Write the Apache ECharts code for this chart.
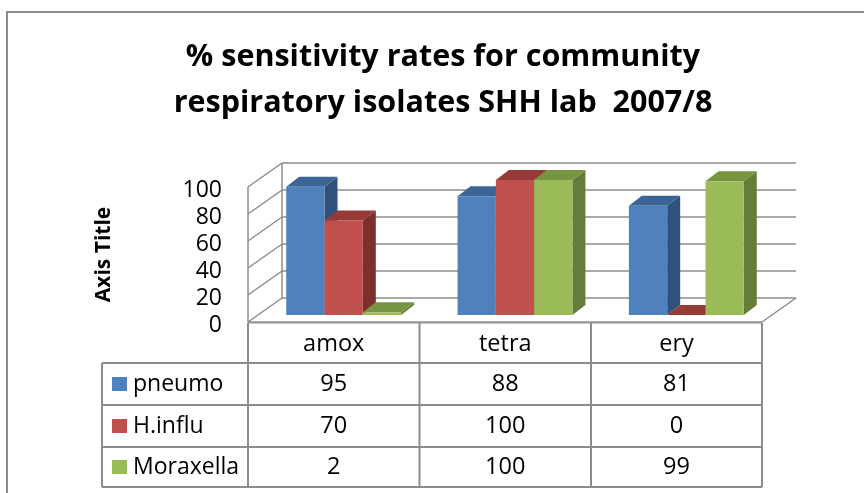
<!DOCTYPE html>
<html>
<head>
<meta charset="utf-8">
<script src="https://cdn.jsdelivr.net/npm/echarts@6/dist/echarts.min.js"></script>
<style>
  html, body { margin: 0; padding: 0; background: #fff; }
  #main { width: 864px; height: 493px; }
</style>
</head>
<body>
<div id="main"></div>
<script>
const categories = ["amox", "tetra", "ery"];
const seriesNames = ["pneumo", "H.influ", "Moraxella"];
const pneumo = [95, 88, 81];
const hinflu = [70, 100, 0];
const moraxella = [2, 100, 99];
const yTicks = [0, 20, 40, 60, 80, 100];

const values = [pneumo, hinflu, moraxella];
const faces = [
  { front: "#4f81bd", top: "#3c6494", side: "#30517c" },
  { front: "#c0504d", top: "#963a38", side: "#7d2f2d" },
  { front: "#9bbb59", top: "#779440", side: "#667d3a" }
];
const FONT = "'Open Sans', 'Noto Sans', sans-serif";
const GRID = "#8c8c8c";
// offsets of the front and back planes relative to the bar plane, and bar depth
const F = [-10, 7], B = [24, -17], D = [13, -10];

const chart = echarts.init(document.getElementById("main"));

function line(x1, y1, x2, y2) {
  return { type: "line", shape: { x1, y1, x2, y2 }, style: { stroke: GRID, lineWidth: 1.5 } };
}

function renderFrame(params, api) {
  const cs = params.coordSys;
  const x0 = cs.x, x1 = cs.x + cs.width;
  const v = api.value(0);
  const y = api.coord([0, v])[1];
  const children = [
    line(x0 + B[0], y + B[1], x1 + B[0], y + B[1]),
    line(x0 + F[0], y + F[1], x0 + B[0], y + B[1]),
    {
      type: "text",
      style: {
        text: String(v), x: 222, y: y + F[1] + 3,
        align: "right", verticalAlign: "middle",
        font: "23px " + FONT, fill: "#000"
      }
    }
  ];
  if (v === 0) {
    const yTop = api.coord([0, yTicks[yTicks.length - 1]])[1];
    children.push(
      line(x0 + F[0], y + F[1], x1 + F[0], y + F[1]),
      line(x1 + F[0], y + F[1], x1 + B[0], y + B[1]),
      line(x0 + F[0], y + F[1], x0 + F[0], yTop + F[1]),
      line(x0 + B[0], y + B[1], x0 + B[0], yTop + B[1])
    );
  }
  return { type: "group", children };
}

function makeBarRenderer(s) {
  return function (params, api) {
    const idx = api.value(0);
    const val = api.value(1);
    const base = api.coord([idx, 0]);
    const top = api.coord([idx, val]);
    const bw = api.size([1, 0])[0] * 0.2235;
    const xa = base[0] + (s - 1.5) * bw;
    const xb = xa + bw;
    const yb = base[1], yt = top[1];
    const c = faces[s];
    return {
      type: "group",
      children: [
        { type: "polygon", shape: { points: [[xb, yt], [xb + D[0], yt + D[1]], [xb + D[0], yb + D[1]], [xb, yb]] }, style: { fill: c.side } },
        { type: "polygon", shape: { points: [[xa, yt], [xa + D[0], yt + D[1]], [xb + D[0], yt + D[1]], [xb, yt]] }, style: { fill: c.top } },
        { type: "rect", shape: { x: xa, y: yt, width: bw, height: yb - yt }, style: { fill: c.front } }
      ]
    };
  };
}

// data table below the plot
const colX = [248, 419.5, 591, 762];
const rowY = [323, 363, 405, 447, 487];
const legendX = 102;
const TFONT = "23.5px " + FONT;
const table = [];
const tl = (x1, y1, x2, y2, c) => ({ type: "line", shape: { x1, y1, x2, y2 }, style: { stroke: c || GRID, lineWidth: 2 } });
table.push(tl(colX[0], rowY[0], colX[3], rowY[0], "#c4c4c4"));
colX.forEach(x => table.push(tl(x, rowY[0], x, rowY[4])));
for (let r = 1; r < rowY.length; r++) table.push(tl(legendX, rowY[r], colX[3], rowY[r]));
table.push(tl(legendX, rowY[1], legendX, rowY[4]));
categories.forEach((cat, i) => {
  table.push({ type: "text", style: { text: cat, x: (colX[i] + colX[i + 1]) / 2, y: (rowY[0] + rowY[1]) / 2 + 1, align: "center", verticalAlign: "middle", font: TFONT, fill: "#000" } });
});
seriesNames.forEach((name, s) => {
  const cy = (rowY[s + 1] + rowY[s + 2]) / 2;
  table.push({ type: "rect", shape: { x: 112, y: cy - 7, width: 15, height: 14 }, style: { fill: faces[s].front } });
  table.push({ type: "text", style: { text: name, x: 133, y: cy, align: "left", verticalAlign: "middle", font: "23px " + FONT, fill: "#000" } });
  values[s].forEach((v, i) => {
    table.push({ type: "text", style: { text: String(v), x: (colX[i] + colX[i + 1]) / 2, y: cy, align: "center", verticalAlign: "middle", font: TFONT, fill: "#000" } });
  });
});

const option = {
  animation: false,
  backgroundColor: "#fff",
  grid: { left: 258, right: 92, top: 180, bottom: 178 },
  xAxis: { type: "category", data: categories, show: false },
  yAxis: {
    type: "value", min: 0, max: 100, interval: 20,
    axisLine: { show: false }, axisTick: { show: false },
    axisLabel: { show: false }, splitLine: { show: false },
    name: "Axis Title", nameLocation: "middle", nameGap: 143, nameRotate: 90,
    nameTextStyle: { fontFamily: FONT, fontWeight: "bold", fontSize: 21, color: "#000", padding: [0, 0, 0, -14] }
  },
  graphic: [
    { type: "rect", shape: { x: 7, y: 12, width: 900, height: 520 }, style: { fill: null, stroke: GRID, lineWidth: 2 }, z: 0 },
    {
      type: "text",
      style: {
        text: "% sensitivity rates for community\nrespiratory isolates SHH lab  2007/8",
        x: 443, y: 34, align: "center", verticalAlign: "top",
        font: "bold 30.5px " + FONT, lineHeight: 46, fill: "#000"
      }
    },
    ...table
  ],
  series: [
    {
      type: "custom", name: "frame", coordinateSystem: "cartesian2d",
      data: yTicks.map(v => [v]), encode: { y: 0 },
      renderItem: renderFrame, silent: true, z: 1
    },
    ...seriesNames.map((name, s) => ({
      type: "custom", name, coordinateSystem: "cartesian2d",
      data: values[s].map((v, i) => [i, v]), encode: { x: 0, y: 1 },
      renderItem: makeBarRenderer(s), z: 2 + s
    }))
  ]
};

chart.setOption(option);
</script>
</body>
</html>
